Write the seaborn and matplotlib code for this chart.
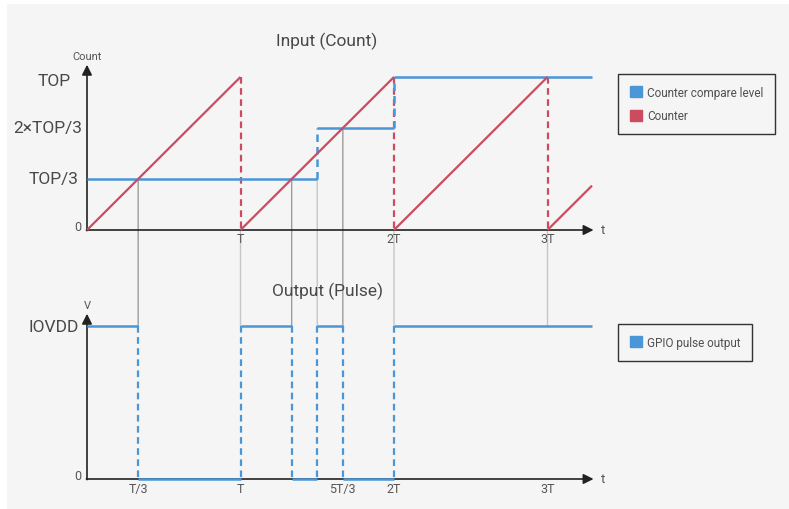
import numpy as np
import pandas as pd
import matplotlib
matplotlib.use("Agg")
import matplotlib.pyplot as plt
import seaborn as sns
from matplotlib.patches import Patch, Rectangle, ConnectionPatch

# ---------------- data (T = one period, TOP = full count) ----------------
T = 1.0
TOP = 1.0
t_end = 3.29                      # right end of the drawn time range

# counter: ramps 0 -> TOP each period, resets at these times
counter_resets = [1.0, 2.0, 3.0]
counter_last_value = 0.29         # counter value at t_end

# counter compare level (changes at the edges)
compare_edges = [1.5, 2.0]
compare_levels = [1 / 3, 2 / 3, 1.0]

# GPIO pulse output: 1 = IOVDD, 0 = low
pulse_edges = [1 / 3, 1.0, 4 / 3, 1.5, 5 / 3, 2.0]
pulse_levels = [1, 0, 1, 0, 1, 0, 1]

# guide lines from the input chart down to the output chart
guide_t = [1 / 3, 1.0, 4 / 3, 1.5, 5 / 3, 2.0, 3.0]
guide_from = [1 / 3, 0.0, 1 / 3, 1 / 3, 2 / 3, 0.0, 0.0]
guide_kind = ["cross", "period", "cross", "period", "cross", "period", "period"]

top_ytick_values = [0, 1 / 3, 2 / 3, 1.0]
top_ytick_labels = ["0", "TOP/3", "2\u00d7TOP/3", "TOP"]
top_xtick_values = [1.0, 2.0, 3.0]
top_xtick_labels = ["T", "2T", "3T"]
bot_ytick_values = [0, 1]
bot_ytick_labels = ["0", "IOVDD"]
bot_xtick_values = [1 / 3, 1.0, 5 / 3, 2.0, 3.0]
bot_xtick_labels = ["T/3", "T", "5T/3", "2T", "3T"]

legend_top = ["Counter compare level", "Counter"]
legend_bot = ["GPIO pulse output"]

# ---------------- styling ----------------
plt.rcParams["font.family"] = ["Roboto", "DejaVu Sans"]
BLUE = "#4a96d6"
RED = "#cc4b5f"
AXC = "#222222"
TXT = "#484848"
TICK = "#555555"
BG = "#f5f5f5"
DASH = (0, (3, 2))

W, H = 789, 510
fig = plt.figure(figsize=(W / 100, H / 100), dpi=100, facecolor="white")
fig.add_artist(Rectangle((7 / W, 0), 1, (H - 5) / H, transform=fig.transFigure,
                         facecolor=BG, edgecolor="none", zorder=-10))

# axes geometry in pixels: x=0 at px 87, 153.5 px per T; 153 px per unit in y
x0_px, px_per_t = 87, 153.5
xlim = (-0.1, 3.45)
ylim = (-0.1, 1.15)
py = 153.0


def make_axes(zero_px):
    left = (x0_px + xlim[0] * px_per_t) / W
    width = (xlim[1] - xlim[0]) * px_per_t / W
    bottom_px = zero_px - ylim[0] * py
    bottom = (H - bottom_px) / H
    height = (ylim[1] - ylim[0]) * py / H
    ax = fig.add_axes([left, bottom, width, height])
    ax.set_xlim(*xlim)
    ax.set_ylim(*ylim)
    ax.axis("off")
    return ax


ax1 = make_axes(231)
ax2 = make_axes(480)


def segs(x, y, seg, ax, color, lw, ls="-", z=2):
    df = pd.DataFrame({"t": x, "v": y, "seg": seg})
    sns.lineplot(data=df, x="t", y="v", units="seg", estimator=None, sort=False,
                 ax=ax, color=color, lw=lw, linestyle=ls, legend=False, zorder=z)
    for ln in ax.lines[-len(set(seg)):]:
        ln.set_clip_on(False)
        ln.set_solid_capstyle("butt")


# ---------- top: counter ----------
starts = [0.0] + counter_resets
ends = counter_resets + [t_end]
rx, ry, rs = [], [], []
for i, (a, b) in enumerate(zip(starts, ends)):
    rx += [a, b]
    ry += [0, (b - a) / T * TOP if b - a < T else TOP]
    rs += [i, i]
ry[-1] = counter_last_value
dx, dy, ds = [], [], []
for i, r in enumerate(counter_resets):
    dx += [r, r]
    dy += [TOP, 0]
    ds += [i, i]

# compare level
cb = [0.0] + compare_edges + [t_end]
cx, cy, cs = [], [], []
for i, lv in enumerate(compare_levels):
    cx += [cb[i], cb[i + 1]]
    cy += [lv, lv]
    cs += [i, i]
sx, sy, ss = [], [], []
for i, e in enumerate(compare_edges):
    sx += [e, e]
    sy += [compare_levels[i], compare_levels[i + 1]]
    ss += [i, i]

segs(dx, dy, ds, ax1, RED, 1.6, DASH, z=2)
segs(cx, cy, cs, ax1, BLUE, 1.8, "-", z=3)
segs(sx, sy, ss, ax1, BLUE, 1.8, DASH, z=3)
segs(rx, ry, rs, ax1, RED, 1.6, "-", z=4)

# ---------- bottom: pulse ----------
pb = [0.0] + pulse_edges + [t_end]
px_, py_, ps_ = [], [], []
for i, lv in enumerate(pulse_levels):
    px_ += [pb[i], pb[i + 1]]
    py_ += [lv, lv]
    ps_ += [i, i]
ex, ey, es = [], [], []
for i, e in enumerate(pulse_edges):
    ex += [e, e]
    ey += [1, 0]
    es += [i, i]
segs(ex, ey, es, ax2, BLUE, 1.6, DASH, z=3)
segs(px_, py_, ps_, ax2, BLUE, 1.8, "-", z=4)

# ---------- axes with arrows ----------
arrow = dict(arrowstyle="-|>,head_length=0.6,head_width=0.3", mutation_scale=10,
             lw=1.2, color=AXC, shrinkA=0, shrinkB=0)
for ax in (ax1, ax2):
    ax.annotate("", xy=(3.3, 0), xytext=(-0.004, 0), arrowprops=arrow, zorder=1,
                annotation_clip=False)
    ax.annotate("", xy=(0, 1.08), xytext=(0, -0.004), arrowprops=arrow, zorder=1,
                annotation_clip=False)
    ax.text(3.36, 0.005, "t", ha="center", va="center", fontsize=9.5, color=TICK)

ax1.text(0, 1.135, "Count", ha="center", va="center", fontsize=8, color=TICK)
ax2.text(0, 1.14, "V", ha="center", va="center", fontsize=8, color=TICK)

ax1.text(1.563, 1.24, "Input (Count)", ha="center", va="center", fontsize=12.5,
         color=TXT)
ax2.text(1.57, 1.235, "Output (Pulse)", ha="center", va="center", fontsize=12.5,
         color=TXT)

# y labels
big_centers = {"TOP": -0.215, "TOP/3": -0.215, "2\u00d7TOP/3": -0.253, "IOVDD": -0.22}
for ax, vals, labs in ((ax1, top_ytick_values, top_ytick_labels),
                       (ax2, bot_ytick_values, bot_ytick_labels)):
    for v, lab in zip(vals, labs):
        if lab == "0":
            ax.text(-0.035, v + 0.02, lab, ha="right", va="center", fontsize=9,
                    color=TICK)
        else:
            ax.text(big_centers[lab], v - 0.025 if lab == "TOP" else v, lab,
                    ha="center", va="center", fontsize=12.5, color=TXT)

# x labels
for v, lab in zip(top_xtick_values, top_xtick_labels):
    ax1.text(v, -0.012, lab, ha="center", va="top", fontsize=9, color=TICK)
for v, lab in zip(bot_xtick_values, bot_xtick_labels):
    ax2.text(v, -0.02, lab, ha="center", va="top", fontsize=9, color=TICK)

# ---------- guide lines between the charts ----------
for t, f, k in zip(guide_t, guide_from, guide_kind):
    cp = ConnectionPatch(xyA=(t, f), coordsA=ax1.transData, xyB=(t, 1), coordsB=ax2.transData,
                         color="#9c9c9c" if k == "cross" else "#c6c6c6", lw=1.0, zorder=-1)
    fig.add_artist(cp)

# ---------- legends ----------
leg_kw = dict(loc="upper left", bbox_transform=fig.transFigure, borderaxespad=0,
              frameon=True, fancybox=False, handlelength=1.0,
              handleheight=1.0, handletextpad=0.45, borderpad=1.0, labelspacing=0.9,
              labelcolor="#505050", prop={"size": 8.5})
l1 = ax1.legend(handles=[Patch(color=BLUE), Patch(color=RED)], labels=legend_top,
                bbox_to_anchor=(618 / W, 1 - 75 / H), **leg_kw)
l2 = ax2.legend(handles=[Patch(color=BLUE)], labels=legend_bot,
                bbox_to_anchor=(618 / W, 1 - 325 / H), **leg_kw)
for lg in (l1, l2):
    fr = lg.get_frame()
    fr.set_edgecolor("#333333")
    fr.set_linewidth(1.0)
    fr.set_facecolor(BG)
    fr.set_alpha(1)

fig.savefig("out.png", dpi=100, facecolor="white")
